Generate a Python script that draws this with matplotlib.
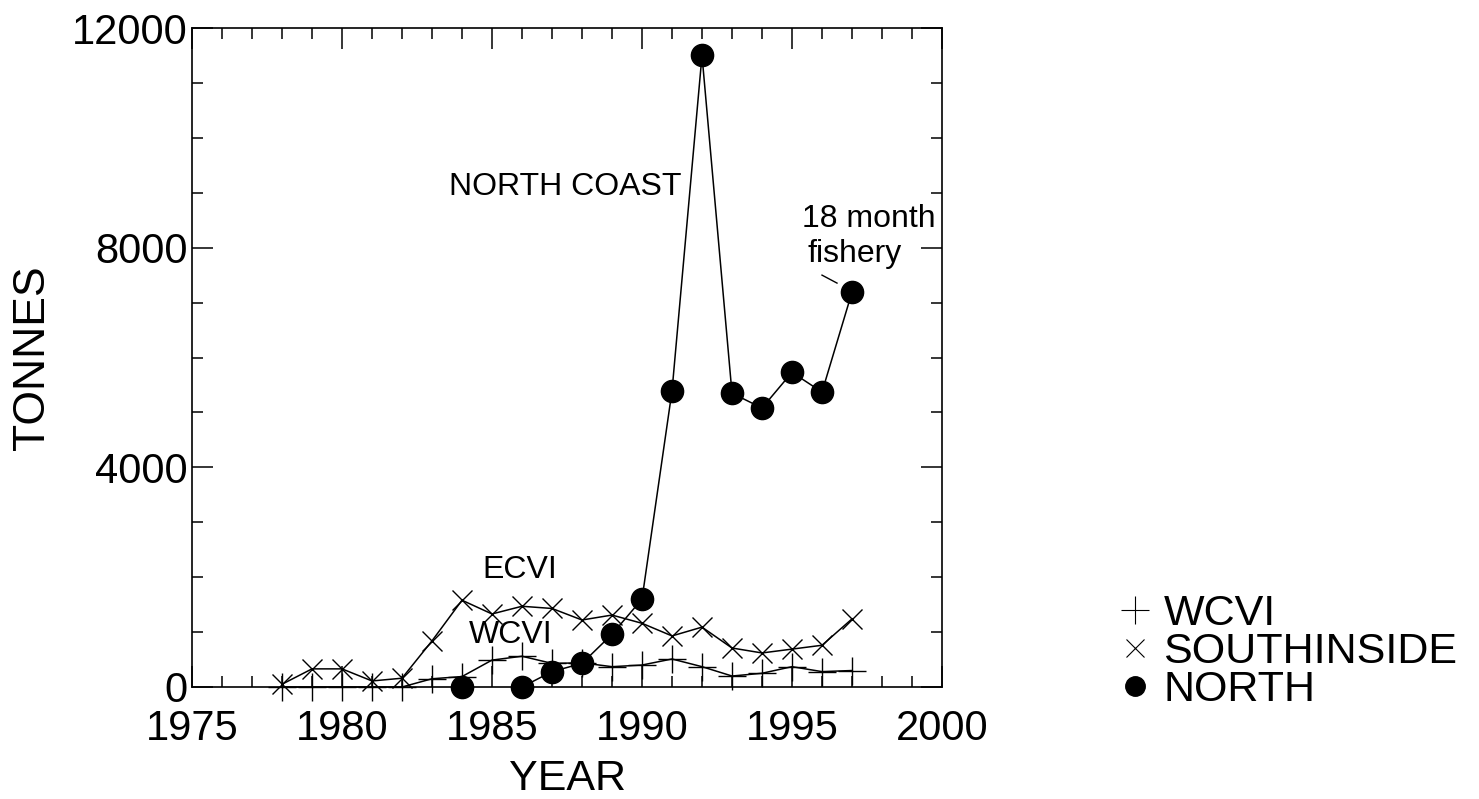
import matplotlib
matplotlib.use('Agg')
import matplotlib.pyplot as plt
from matplotlib.lines import Line2D
import numpy as np

plt.rcParams['font.family'] = ['Liberation Sans', 'DejaVu Sans']

years = list(range(1978, 1998))
wcvi = [0, 0, 0, 0, 0, 150, 190, 490, 560, 430, 440, 370, 400, 510, 370, 200, 250, 370, 280, 300]
southinside = [50, 330, 330, 110, 160, 840, 1580, 1330, 1470, 1430, 1220, 1310, 1160, 930, 1090,
               710, 620, 690, 760, 1240]
north_years = [1984, 1985, 1986, 1987, 1988, 1989, 1990, 1991, 1992, 1993, 1994, 1995, 1996, 1997]
north = [0, np.nan, 0, 280, 430, 960, 1600, 5390, 11500, 5350, 5080, 5730, 5370, 7190]

W, H = 1479, 799
fig = plt.figure(figsize=(W / 100, H / 100), dpi=100)
ax = fig.add_axes([192 / W, 1 - 687 / H, 750 / W, 659 / H])

lw = 1.1
ax.plot(years, wcvi, color='black', lw=lw, marker='+', markersize=20, mew=1.0, clip_on=False)
ax.plot(years, southinside, color='black', lw=lw, marker='x', markersize=14, mew=1.0, clip_on=False)
ax.plot(north_years, north, color='black', lw=lw, marker='o', markersize=16, clip_on=False)

ax.set_xlim(1975, 2000)
ax.set_ylim(0, 12000)
ax.set_xticks([1975, 1980, 1985, 1990, 1995, 2000])
ax.set_xticks(range(1975, 2001), minor=True)
ax.set_yticks([0, 4000, 8000, 12000])
ax.set_yticks(range(0, 12001, 1000), minor=True)
ax.tick_params(which='both', direction='in', top=True, right=True, width=1.1, labelsize=30,
               color='black')
ax.tick_params(axis='y', pad=3)
ax.tick_params(axis='x', pad=16)
ax.tick_params(which='major', length=15)
ax.tick_params(which='minor', length=8)
for s in ax.spines.values():
    s.set_linewidth(1.2)

ax.set_xlabel('YEAR', fontsize=31, labelpad=7)
ax.set_ylabel('TONNES', fontsize=32, labelpad=14)

ax.text(1987.43, 9105, 'NORTH COAST', fontsize=23, ha='center', va='center')
ax.text(1985.93, 2130, 'ECVI', fontsize=23, ha='center', va='center')
ax.text(1985.63, 947, 'WCVI', fontsize=23, ha='center', va='center')
ax.text(1995.34, 8515, '18 month', fontsize=23, ha='left', va='center')
ax.text(1995.52, 7880, 'fishery', fontsize=23, ha='left', va='center')
ax.plot([1996.0, 1996.5], [7500, 7355], color='black', lw=1.0)

handles = [
    Line2D([], [], color='black', marker='+', linestyle='none', markersize=20, mew=0.8),
    Line2D([], [], color='black', marker='x', linestyle='none', markersize=13, mew=0.8),
    Line2D([], [], color='black', marker='o', linestyle='none', markersize=14),
]
fig.legend(handles, ['WCVI', 'SOUTHINSIDE', 'NORTH'], loc='center left',
           bbox_to_anchor=(1088 / W, 1 - 652 / H), frameon=False, fontsize=31,
           labelspacing=-0.05, handletextpad=0.05, handlelength=1.2, borderpad=0)

fig.savefig('out.png', dpi=100)
